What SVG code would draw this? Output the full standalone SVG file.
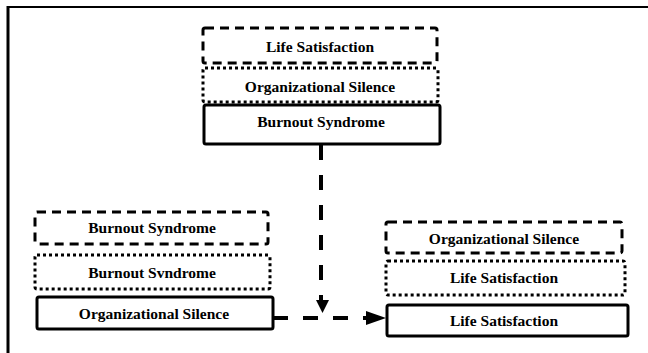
<svg xmlns="http://www.w3.org/2000/svg" width="648" height="353" viewBox="0 0 648 353">
<defs>
<style>
.box{fill:#fff;stroke:#000;stroke-width:3}
.dash{stroke-dasharray:9 6}
.dot{stroke-dasharray:3 3}
.lbl{font-family:'Liberation Serif','Times New Roman',serif;font-weight:700;font-size:15.5px;fill:#000;text-anchor:middle}
.conn{fill:none;stroke:#000;stroke-width:4;stroke-dasharray:15 15}
</style>
</defs>
<rect width="648" height="353" fill="#fff"/>
<g id="frame">
<line x1="7" y1="7" x2="648" y2="7" stroke="#000" stroke-width="2"/>
<line x1="8" y1="6" x2="8" y2="353" stroke="#000" stroke-width="3"/>
</g>
<g id="top-life-satisfaction">
<rect class="box dash" x="203" y="28" width="234" height="35" rx="2"/>
<text class="lbl" x="320" y="52">Life Satisfaction</text>
</g>
<g id="top-organizational-silence">
<rect class="box dot" x="203" y="68" width="235" height="34" rx="2"/>
<text class="lbl" x="320" y="92">Organizational Silence</text>
</g>
<g id="top-burnout-syndrome">
<rect class="box" x="204" y="105" width="236" height="39" rx="2"/>
<text class="lbl" x="321" y="127">Burnout Syndrome</text>
</g>
<g id="left-burnout-syndrome-dashed">
<rect class="box dash" x="35" y="212" width="233" height="32" rx="2"/>
<text class="lbl" x="152" y="233">Burnout Syndrome</text>
</g>
<g id="left-burnout-syndrome-dotted">
<rect class="box dot" x="35" y="255" width="235" height="34" rx="2"/>
<text class="lbl" x="152" y="278">Burnout Svndrome</text>
</g>
<g id="left-organizational-silence">
<rect class="box" x="37" y="297" width="236" height="32" rx="2"/>
<text class="lbl" x="154" y="319">Organizational Silence</text>
</g>
<g id="right-organizational-silence">
<rect class="box dash" x="386" y="222" width="236" height="31" rx="2"/>
<text class="lbl" x="504" y="244">Organizational Silence</text>
</g>
<g id="right-life-satisfaction-dotted">
<rect class="box dot" x="386" y="261" width="239" height="34" rx="2"/>
<text class="lbl" x="504" y="283">Life Satisfaction</text>
</g>
<g id="right-life-satisfaction">
<rect class="box" x="387" y="305" width="241" height="31" rx="2"/>
<text class="lbl" x="504" y="326">Life Satisfaction</text>
</g>
<g id="connectors">
<path class="conn" d="M321,145 L321,300"/>
<path d="M316,300 L329,300 L322.5,313 Z" fill="#000"/>
<path class="conn" d="M273,318 L372,318"/>
<path d="M366,311 L386,318 L366,325 Z" fill="#000"/>
</g>
</svg>
